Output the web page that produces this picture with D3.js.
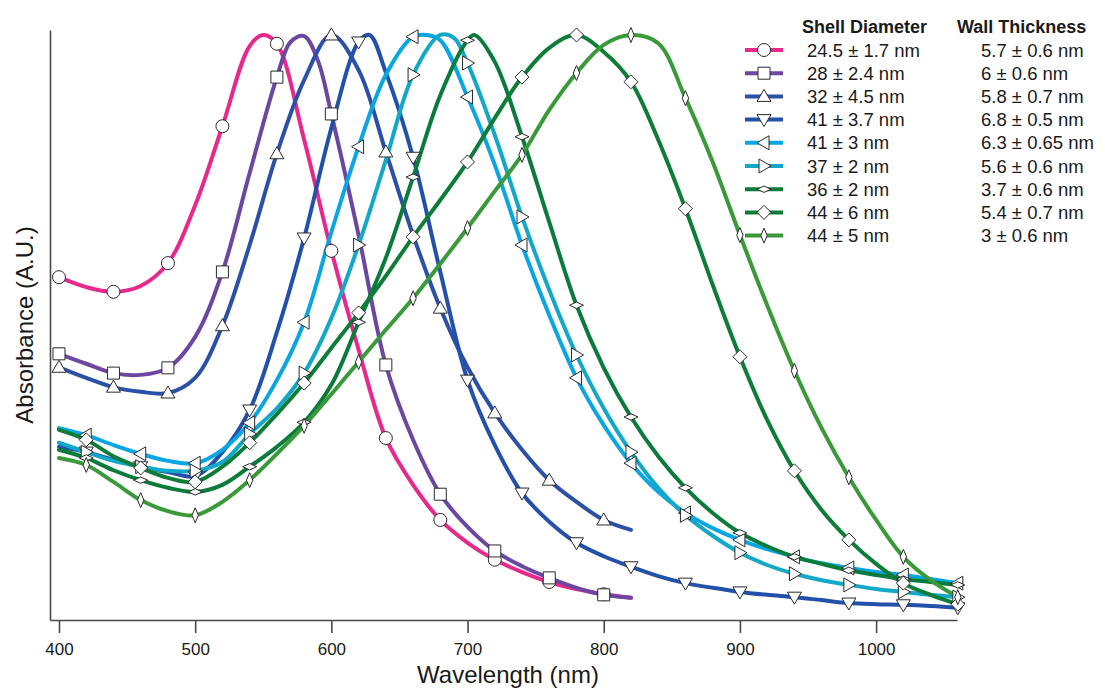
<!DOCTYPE html>
<html>
<head>
<meta charset="utf-8">
<script src="https://cdn.jsdelivr.net/npm/d3@7"></script>
<style>
  body { margin: 0; background: #fff; }
  svg { display: block; }
</style>
</head>
<body>
<svg id="chart" width="1105" height="688"></svg>
<script>
// ---------------- DATA (wavelength nm, normalized absorbance %) ----------------
const xTicks = [400, 500, 600, 700, 800, 900, 1000];

const shellDiameters = ["24.5 ± 1.7 nm", "28 ± 2.4 nm", "32 ± 4.5 nm", "41 ± 3.7 nm", "41 ± 3 nm",
                        "37 ± 2 nm", "36 ± 2 nm", "44 ± 6 nm", "44 ± 5 nm"];
const wallThickness = ["5.7 ± 0.6 nm", "6 ± 0.6 nm", "5.8 ± 0.7 nm", "6.8 ± 0.5 nm", "6.3 ± 0.65 nm",
                       "5.6 ± 0.6 nm", "3.7 ± 0.6 nm", "5.4 ± 0.7 nm", "3 ± 0.6 nm"];
const seriesColors = ["#e8288d", "#6c47a1", "#2a51a6", "#2350a8", "#0aa6e4",
                      "#14a8c8", "#0b7b3b", "#0d7d38", "#3a9a3a"];
const markerShapes = ["circle", "square", "triUp", "triDown", "triLeft",
                      "triRight", "hDiamond", "diamond", "vDiamond"];
const markerStart = [400, 400, 400, 420, 420, 420, 420, 420, 420];
const markerStep = 40;

const s245 = [[400,58.6],[420,56.9],[440,56.1],[460,57.1],[480,61.0],[500,70.9],[520,84.4],[540,98.1],[550,100],
  [560,98.5],[580,82.1],[600,63.1],[620,46.2],[640,31.1],[660,23.1],[680,17.1],[700,13.2],[720,10.3],[740,8.2],
  [760,6.5],[780,5.3],[800,4.4],[820,3.8]];
const s28 = [[400,45.5],[420,43.8],[440,42.2],[460,41.9],[480,43.1],[500,48.4],[520,59.5],[540,76.4],[560,92.8],
  [570,98.8],[580,99.8],[590,95.7],[600,86.5],[620,65.8],[640,43.6],[660,30.8],[680,21.5],[700,15.9],[720,11.8],
  [740,9.2],[760,7.2],[780,5.5],[800,4.3],[820,3.8]];
const s32 = [[400,43.2],[420,41.4],[440,39.8],[460,39.0],[480,38.8],[500,41.4],[520,50.3],[540,64.1],[560,79.7],
  [580,92.3],[600,100],[620,94.0],[640,80.0],[660,65.8],[680,53.3],[700,43.2],[720,35.4],[740,29.1],[760,23.9],
  [780,20.2],[800,17.1],[820,15.4]];
const s41a = [[400,29.6],[420,28.7],[440,27.4],[460,26.2],[480,25.3],[500,24.6],[520,28.7],[540,35.9],[560,49.2],
  [580,65.3],[600,84.1],[620,98.8],[628,100],[640,93.6],[660,79.1],[680,59.5],[700,41.0],[720,29.9],[740,21.7],
  [760,16.8],[780,13.2],[800,10.9],[820,9.1],[840,7.5],[860,6.3],[880,5.5],[900,4.8],[920,4.3],[940,3.9],
  [960,3.4],[980,2.9],[1000,2.7],[1020,2.6],[1040,2.4],[1060,2.1]];
const s41b = [[400,32.8],[420,31.6],[440,29.9],[460,28.4],[480,27.2],[500,26.8],[520,29.1],[540,33.7],[560,41.0],
  [580,50.9],[600,66.3],[620,80.9],[640,93.2],[660,99.7],[670,100],[680,99.1],[700,89.4],[720,77.8],[740,64.1],
  [760,52.1],[780,41.4],[800,33.3],[820,26.8],[840,21.9],[860,18.3],[880,15.7],[900,13.7],[920,12.1],[940,10.8],
  [960,9.7],[980,8.9],[1000,8.2],[1020,7.7],[1040,7.0],[1060,6.3]];
const s37 = [[400,30.3],[420,28.7],[440,27.2],[460,26.2],[480,25.5],[500,25.5],[520,27.0],[540,31.8],[560,36.2],
  [580,42.2],[600,51.6],[620,64.1],[640,78.6],[660,93.2],[680,100],[690,99.5],[700,95.2],[720,82.9],[740,68.9],
  [760,56.4],[780,45.3],[800,36.2],[820,28.7],[840,22.6],[860,17.9],[880,14.4],[900,11.5],[920,9.4],[940,7.9],
  [960,6.8],[980,6.0],[1000,5.3],[1020,4.8],[1040,4.3],[1060,3.9]];
const s36 = [[400,29.1],[420,27.7],[440,25.6],[460,23.9],[480,22.6],[500,21.9],[520,23.1],[540,26.2],[560,29.6],
  [580,33.8],[600,40.2],[620,50.9],[640,61.9],[660,75.7],[680,89.7],[700,99.1],[705,100],[720,95.4],[740,82.6],
  [760,68.0],[780,53.8],[800,43.1],[820,34.7],[840,28.0],[860,22.6],[880,18.3],[900,14.9],[920,12.6],[940,10.8],
  [960,9.6],[980,8.5],[1000,7.7],[1020,7.0],[1040,6.5],[1060,6.0]];
const s44a = [[400,32.5],[420,30.8],[440,28.0],[460,26.0],[480,24.3],[500,23.6],[520,26.2],[540,30.3],[560,35.2],
  [580,40.5],[600,46.5],[620,52.5],[640,58.8],[660,65.5],[680,71.8],[700,78.3],[720,85.8],[740,92.8],[760,97.8],
  [780,100],[800,97.1],[820,92.0],[840,82.1],[860,70.3],[880,57.3],[900,45.0],[920,34.2],[940,25.5],[960,18.8],
  [980,13.7],[1000,9.6],[1020,6.3],[1040,4.3],[1060,2.7]];
const s44b = [[400,27.7],[420,26.5],[440,23.6],[460,20.5],[480,18.6],[500,17.9],[520,20.2],[540,23.9],[560,28.4],
  [580,33.2],[600,38.6],[620,44.1],[640,49.6],[660,55.0],[680,60.9],[700,67.0],[720,73.3],[740,79.5],[760,87.2],
  [780,93.5],[800,98.3],[820,100],[840,98.6],[860,89.2],[880,78.3],[900,65.8],[920,53.8],[940,42.6],[960,32.8],
  [980,24.4],[1000,17.1],[1020,10.8],[1040,6.8],[1060,3.9]];

const allSeries = [s245, s28, s32, s41a, s41b, s37, s36, s44a, s44b];

// ---------------- CHART ----------------
const FONT = "'Liberation Sans', Arial, Helvetica, sans-serif";
const svg = d3.select("#chart");
const x = d3.scaleLinear().domain([393.4, 1059.4]).range([50, 957]);
const y = d3.scaleLinear().domain([0, 100.85]).range([620, 30]);

const axisColor = "#4a4a4a";

// x axis
svg.append("g")
  .attr("transform", "translate(0,620)")
  .call(d3.axisBottom(x).tickValues(xTicks).tickFormat(d3.format("d"))
        .tickSize(13).tickSizeOuter(0).tickPadding(10))
  .call(g => g.attr("font-family", FONT).attr("font-size", 17))
  .call(g => g.selectAll("path, line").attr("stroke", axisColor).attr("stroke-width", 1.6))
  .call(g => g.selectAll("text").attr("fill", "#1a1a1a"));

// y axis (no ticks)
svg.append("g")
  .attr("transform", "translate(50,0)")
  .call(d3.axisLeft(y).tickValues([]).tickSizeOuter(0))
  .call(g => g.selectAll("path").attr("stroke", axisColor).attr("stroke-width", 1.6));

// axis titles
svg.append("text")
  .attr("x", 508).attr("y", 683)
  .attr("text-anchor", "middle")
  .attr("font-family", FONT).attr("font-size", 24).attr("fill", "#1a1a1a")
  .text("Wavelength (nm)");
svg.append("text")
  .attr("transform", "translate(33,325) rotate(-90)")
  .attr("text-anchor", "middle")
  .attr("font-family", FONT).attr("font-size", 24).attr("fill", "#1a1a1a")
  .text("Absorbance (A.U.)");

// marker shapes
function markerPath(shape) {
  switch (shape) {
    case "circle":   return "M-6.5,0A6.5,6.5 0 1,0 6.5,0A6.5,6.5 0 1,0 -6.5,0Z";
    case "square":   return "M-6,-6H6V6H-6Z";
    case "triUp":    return "M0,-7L7,5L-7,5Z";
    case "triDown":  return "M0,7L7,-5L-7,-5Z";
    case "triLeft":  return "M-7,0L5,-7L5,7Z";
    case "triRight": return "M7,0L-5,-7L-5,7Z";
    case "diamond":  return "M0,-7L7,0L0,7L-7,0Z";
    case "hDiamond": return "M-7,0L0,-3.2L7,0L0,3.2Z";
    case "vDiamond": return "M0,-7.5L3.2,0L0,7.5L-3.2,0Z";
  }
}

const line = d3.line()
  .x(d => x(d[0]))
  .y(d => y(d[1]))
  .curve(d3.curveCatmullRom.alpha(0.5));

const linesG = svg.append("g");
allSeries.forEach((s, i) => {
  linesG.append("path")
    .attr("d", line(s))
    .attr("fill", "none")
    .attr("stroke", seriesColors[i])
    .attr("stroke-width", 4)
    .attr("stroke-linecap", "round")
    .attr("stroke-linejoin", "round");
});

const markersG = svg.append("g");
allSeries.forEach((s, i) => {
  const pts = s.filter(d => d[0] >= markerStart[i] && (d[0] - markerStart[i]) % markerStep === 0);
  markersG.selectAll(null).data(pts).join("path")
    .attr("transform", d => `translate(${x(d[0])},${y(d[1])})`)
    .attr("d", markerPath(markerShapes[i]))
    .attr("fill", "#fff")
    .attr("stroke", "#2a2a2a")
    .attr("stroke-width", 1);
});

// legend
const legend = svg.append("g").attr("font-family", FONT).attr("fill", "#1a1a1a");
legend.append("text").attr("x", 802).attr("y", 33).attr("font-size", 18).attr("font-weight", "bold")
  .text("Shell Diameter");
legend.append("text").attr("x", 957).attr("y", 33).attr("font-size", 18).attr("font-weight", "bold")
  .text("Wall Thickness");

shellDiameters.forEach((lab, i) => {
  const g = legend.append("g").attr("transform", `translate(0,${50 + i * 23.2})`);
  g.append("line").attr("x1", 745).attr("x2", 783).attr("y1", 0).attr("y2", 0)
    .attr("stroke", seriesColors[i]).attr("stroke-width", 4);
  g.append("path").attr("transform", "translate(764,0)").attr("d", markerPath(markerShapes[i]))
    .attr("fill", "#fff").attr("stroke", "#2a2a2a").attr("stroke-width", 1);
  g.append("text").attr("x", 807).attr("y", 6.5).attr("font-size", 18.5).text(lab);
  g.append("text").attr("x", 981).attr("y", 6.5).attr("font-size", 18.5).text(wallThickness[i]);
});
</script>
</body>
</html>
